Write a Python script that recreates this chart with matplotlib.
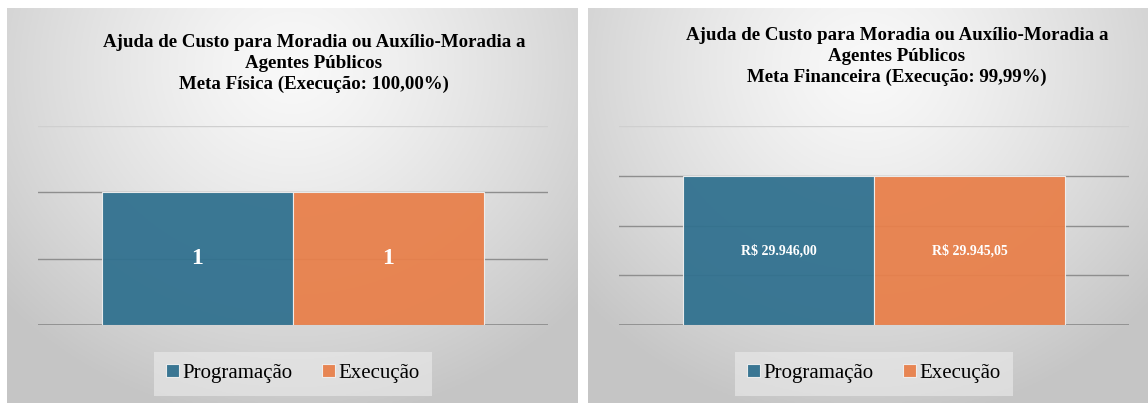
import numpy as np
import matplotlib
matplotlib.use("Agg")
import matplotlib.pyplot as plt

plt.rcParams['font.family'] = ['Liberation Serif', 'DejaVu Serif']

series = ['Programação', 'Execução']
colors = ['#31718f', '#e8804b']

fisica_vals = [1, 1]
fisica_labels = ['1', '1']
fin_vals = [29946.00, 29945.05]
fin_labels = ['R\\$ 29.946,00', 'R\\$ 29.945,05']

title_fis = 'Ajuda de Custo para Moradia ou Auxílio-Moradia a\nAgentes Públicos\nMeta Física (Execução: 100,00%)'
title_fin = 'Ajuda de Custo para Moradia ou Auxílio-Moradia a\nAgentes Públicos\nMeta Financeira (Execução: 99,99%)'

W, H = 1148, 403
fig = plt.figure(figsize=(W / 100, H / 100), dpi=100)
fig.patch.set_facecolor('white')


def px(x0, y0, x1, y1):
    # pixel box (top-left origin) -> figure fraction rect
    return [x0 / W, 1 - y1 / H, (x1 - x0) / W, (y1 - y0) / H]


def background(rect):
    bg = fig.add_axes(rect, zorder=0)
    yy, xx = np.mgrid[0:1:200j, 0:1:300j]
    r = np.sqrt(((xx - 0.5) / 0.75) ** 2 + ((yy - 0.15) / 1.0) ** 2)
    r = np.clip(r / 0.9, 0, 1)
    c = 0.975 - 0.2 * r ** 1.3
    img = np.dstack([c, c, c])
    bg.imshow(img, aspect='auto', extent=[0, 1, 1, 0])
    bg.set_axis_off()


def panel(bgrect, axrect, vals, labels, ymax, ystep, title, title_x, title_y,
          lab_size):
    background(bgrect)
    ax = fig.add_axes(axrect, zorder=1)
    ax.patch.set_alpha(0)
    w = 0.3745
    for i, (v, lab) in enumerate(zip(vals, labels)):
        x = (i - 0.5) * w
        ax.bar(x, v, width=w, color=colors[i], alpha=0.95,
               edgecolor='#f0f0f0', linewidth=0.8, label=series[i], zorder=3)
        ax.text(x, v / 2, lab, color='white', fontweight='bold',
                fontsize=lab_size, ha='center', va='center', zorder=4)
    ax.set_xlim(-0.5, 0.5)
    ax.set_ylim(0, ymax)
    ticks = np.arange(0, ymax + ystep / 2, ystep)
    for t in ticks:
        col = '#cfcfcf' if t >= ymax - 1e-9 else '#8e8e8e'
        lw = 1.3 if t == 0 else 1.0
        ax.axhline(t, color=col, linewidth=lw, zorder=1)
    for s in ax.spines.values():
        s.set_visible(False)
    ax.set_xticks([])
    ax.set_yticks([])
    fig.text(title_x / W, 1 - title_y / H, title, ha='center', va='top',
             fontsize=13.6, fontweight='bold', linespacing=1.3)
    cx = (axrect[0] + axrect[2] / 2)
    leg = fig.legend(*ax.get_legend_handles_labels(), loc='center',
                     bbox_to_anchor=(cx, 1 - 373.5 / H), ncol=2, frameon=True,
                     fontsize=15, handlelength=0.6, handleheight=0.6,
                     handletextpad=0.2, columnspacing=1.4, borderpad=0.6,
                     fancybox=False)
    leg.get_frame().set_facecolor('#ececec')
    leg.get_frame().set_alpha(0.6)
    leg.get_frame().set_linewidth(0)
    leg.set_zorder(5)


panel(px(7, 8, 578, 403), px(38, 126, 548, 325), fisica_vals, fisica_labels,
      1.5, 0.5, title_fis, 314, 34, 17)
panel(px(588, 8, 1148, 403), px(619, 126, 1129, 325), fin_vals, fin_labels,
      40000, 10000, title_fin, 897, 27, 10)

fig.savefig('out.png', dpi=100)
